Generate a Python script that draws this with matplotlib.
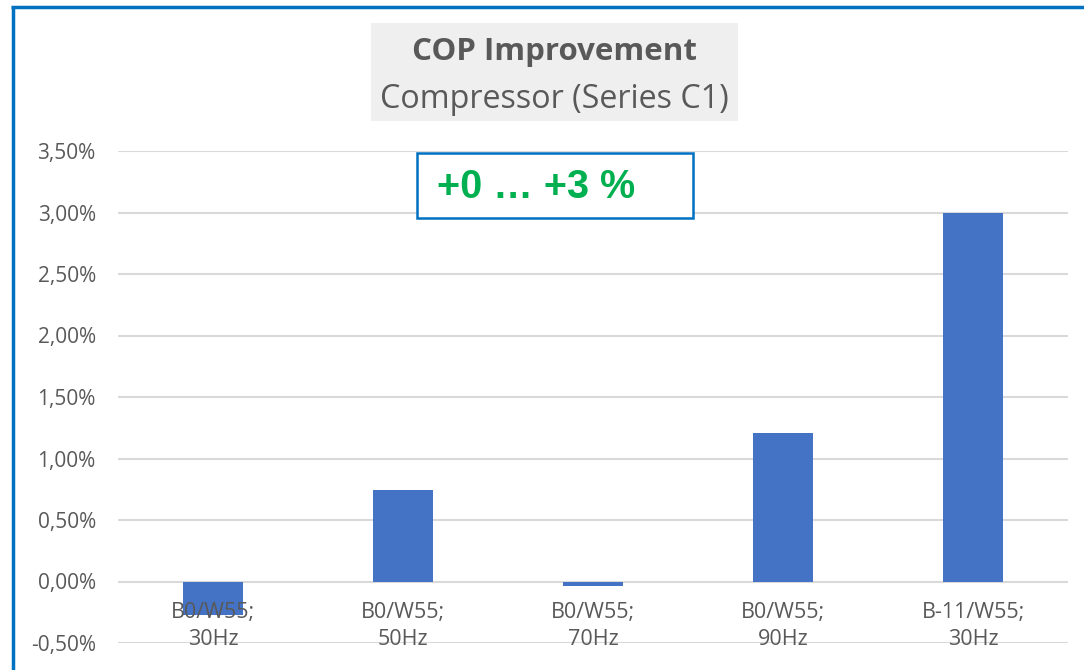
import matplotlib.pyplot as plt
from matplotlib.lines import Line2D
from matplotlib.patches import Rectangle
from matplotlib.ticker import FuncFormatter

categories = ["B0/W55;\n30Hz", "B0/W55;\n50Hz", "B0/W55;\n70Hz", "B0/W55;\n90Hz", "B-11/W55;\n30Hz"]
improvement = [-0.27, 0.74, -0.04, 1.21, 3.0]
y_ticks = [-0.5, 0.0, 0.5, 1.0, 1.5, 2.0, 2.5, 3.0, 3.5]

grey = "#595959"
plt.rcParams['font.family'] = ['Open Sans', 'DejaVu Sans']

fig = plt.figure(figsize=(10.84, 6.7), dpi=100)
ax = fig.add_axes([118 / 1084, 1 - 643 / 670, 950 / 1084, 492 / 670])

x = list(range(len(categories)))
ax.bar(x, improvement, width=0.316, color="#4472C4", zorder=3)

ax.set_xlim(-0.5, len(categories) - 0.5)
ax.set_ylim(-0.5, 3.5)
ax.set_yticks(y_ticks)
ax.yaxis.set_major_formatter(FuncFormatter(lambda v, p: f"{v:.2f}".replace(".", ",") + "%"))
ax.grid(axis="y", color="#D9D9D9", linewidth=1.5, zorder=0)
ax.set_axisbelow(True)

# category labels sit just under the zero line, on top of the bars
ax.set_xticks([])
for i, lab in zip(x, categories):
    ax.annotate(lab, (i, 0), xytext=(0, -15), textcoords="offset points",
                ha="center", va="top", fontsize=15.5, color=grey, linespacing=1.35, zorder=5)

for s in ax.spines.values():
    s.set_visible(False)
ax.tick_params(axis="y", length=0, pad=16, labelsize=15, labelcolor=grey)

# title box
fig.patches.append(Rectangle((371 / 1084, 1 - 121 / 670), 367 / 1084, 98 / 670,
                             transform=fig.transFigure, facecolor="#EFEFEF", edgecolor="none"))
fig.text(554 / 1084, 1 - 52 / 670, "COP Improvement", ha="center", va="center",
         fontsize=22.5, fontweight="bold", color=grey)
fig.text(554 / 1084, 1 - 99 / 670, "Compressor (Series C1)", ha="center", va="center",
         fontsize=23.2, color=grey)

# annotation box
fig.patches.append(Rectangle((417 / 1084, 1 - 218 / 670), 276 / 1084, 65 / 670,
                             transform=fig.transFigure, facecolor="white", edgecolor="#0070C0",
                             linewidth=1.8, zorder=5))
fig.text(437 / 1084, 1 - 187.5 / 670, "+0 … +3 %", ha="left", va="center", zorder=6,
         fontsize=28.5, fontweight="bold", color="#00B050", family=['Liberation Sans', 'DejaVu Sans'])

# chart frame (left and top edges)
fig.add_artist(Line2D([12.5 / 1084, 12.5 / 1084], [0, 1 - 6 / 670], color="#0070C0",
                      linewidth=2.5, solid_capstyle="butt"))
fig.add_artist(Line2D([11.2 / 1084, 1], [1 - 6.5 / 670, 1 - 6.5 / 670], color="#0070C0",
                      linewidth=2.5, solid_capstyle="butt"))

fig.savefig("out.png", dpi=100)
